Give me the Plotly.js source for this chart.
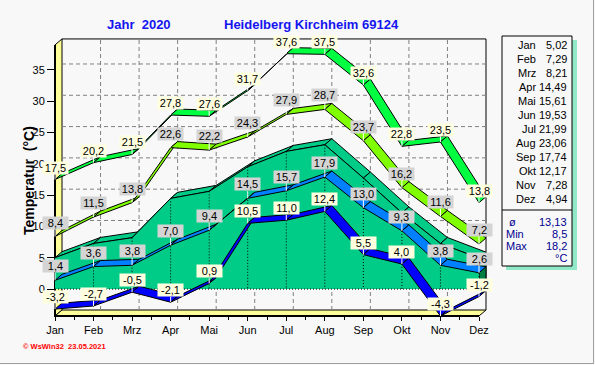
<!DOCTYPE html>
<html>
<head>
<meta charset="utf-8">
<script src="https://cdn.plot.ly/plotly-3.0.1.min.js"></script>
<style>
html,body{margin:0;padding:0;background:#F8F8F8;}
#chart{width:595px;height:365px;}
</style>
</head>
<body>
<div id="chart"></div>
<script>
// ---- data ----
const months = ['Jan','Feb','Mrz','Apr','Mai','Jun','Jul','Aug','Sep','Okt','Nov','Dez'];
const absMax  = [17.5,20.2,21.5,27.8,27.6,31.7,37.6,37.5,32.6,22.8,23.5,13.8];
const meanMax = [8.4,11.5,13.8,22.6,22.2,24.3,27.9,28.7,23.7,16.2,11.6,7.2];
const meanTemp = [5.02,7.29,8.21,14.49,15.61,19.53,21.99,23.06,17.74,12.17,7.28,4.94];
const meanMin = [1.4,3.6,3.8,7.0,9.4,14.5,15.7,17.9,13.0,9.3,3.8,2.6];
const absMin  = [-3.2,-2.7,-0.5,-2.1,0.9,10.5,11.0,12.4,5.5,4.0,-4.3,-1.2];
const summaryLabels = ['ø','Min','Max'];
const summaryValues = [13.13, 8.5, 18.2];
const yTicks = [0,5,10,15,20,25,30,35];
const titleLeft = 'Jahr\u00A0 2020';
const titleRight = 'Heidelberg Kirchheim 69124';
const yTitle = 'Temperatur\u00A0 (°C)';
const footer = '© WsWin32\u00A0 23.05.2021';

// ---- geometry ----
const W = 595, H = 365;
const M = {l:55, r:107, t:38, b:49};
const PW = W - M.l - M.r, PH = H - M.t - M.b;
const pxPerMonth = 424/11, pxPerDeg = 6.26;
const xmin = 0, xmax = PW/pxPerMonth;
const ymin = -4.3, ymax = ymin + PH/pxPerDeg;
const yTopFront = 39.0;
const DX = 7/pxPerMonth, DY = 6/pxPerDeg;
const FONT = '"Liberation Sans", Arial, sans-serif';

const px = x => (x - xmin)/(xmax - xmin);
const py = y => (y - ymin)/(ymax - ymin);
const ppx = p => (p - M.l)/PW;
const ppy = p => (H - M.b - p)/PH;
const fmt = (v, d) => v.toFixed(d).replace('.', ',');

const traces = [];
const shapes = [];
const annotations = [];

// frame lines
shapes.push({type:'line', xref:'paper', yref:'paper', x0:ppx(593.5), x1:ppx(593.5), y0:ppy(0), y1:ppy(364), line:{color:'#A0A0A0', width:1}});
shapes.push({type:'line', xref:'paper', yref:'paper', x0:ppx(0), x1:ppx(594), y0:ppy(363.5), y1:ppy(363.5), line:{color:'#A0A0A0', width:1}});

// back plane grid
yTicks.forEach(v => {
  shapes.push({type:'line', xref:'x', yref:'y', layer:'below', x0:DX, x1:11+DX, y0:v+DY, y1:v+DY,
    line:{color:'#808080', width:1, dash:'4px,3px'}});
});
for (let i = 1; i <= 10; i++) {
  shapes.push({type:'line', xref:'x', yref:'y', layer:'below', x0:i+DX, x1:i+DX, y0:ymin+DY, y1:yTopFront+DY,
    line:{color:'#808080', width:1, dash:'4px,3px'}});
}
// back plane border
shapes.push({type:'path', xref:'paper', yref:'paper', layer:'below',
  path:`M${px(DX)},${py(yTopFront+DY)} L${px(11+DX)},${py(yTopFront+DY)} L${px(11+DX)},${py(ymin+DY)}`,
  line:{color:'#000', width:1}});
// left wall
shapes.push({type:'path', xref:'paper', yref:'paper', layer:'below',
  path:`M${px(0)},${py(ymin)} L${px(0)},${py(yTopFront)} L${px(DX)},${py(yTopFront+DY)} L${px(DX)},${py(ymin+DY)} Z`,
  fillcolor:'#FFFF99', line:{color:'#000', width:1}});
// floor
shapes.push({type:'path', xref:'paper', yref:'paper', layer:'below',
  path:`M${px(0)},${py(ymin)} L${px(11)},${py(ymin)} L${px(11+DX)},${py(ymin+DY)} L${px(DX)},${py(ymin+DY)} Z`,
  fillcolor:'#FFFF99', line:{color:'#000', width:1}});
// thick front edges
shapes.push({type:'path', xref:'paper', yref:'paper', layer:'below',
  path:`M${px(0)},${py(yTopFront)} L${px(0)},${py(ymin)} L${px(11)},${py(ymin)}`,
  line:{color:'#000', width:2}});

// ---- area (monthly mean) ----
const teal = '#00CC88';
for (let i = 0; i < 11; i++) {
  traces.push({type:'scatter', mode:'lines', hoverinfo:'skip',
    x:[i, i+1, i+1+DX, i+DX, i], y:[meanTemp[i], meanTemp[i+1], meanTemp[i+1]+DY, meanTemp[i]+DY, meanTemp[i]],
    fill:'toself', fillcolor:teal, line:{color:'#000', width:1}});
}
traces.push({type:'scatter', mode:'lines', hoverinfo:'skip',
  x:[11, 11+DX, 11+DX, 11, 11], y:[meanTemp[11], meanTemp[11]+DY, DY, 0, meanTemp[11]],
  fill:'toself', fillcolor:'#007F40', line:{color:'#000', width:1}});
{
  const fx = months.map((m, i) => i).concat([11, 0]);
  const fy = meanTemp.concat([0, 0]);
  traces.push({type:'scatter', mode:'lines', hoverinfo:'skip', x:fx, y:fy,
    fill:'toself', fillcolor:teal, line:{color:teal, width:0}});
  traces.push({type:'scatter', mode:'lines', hoverinfo:'skip', x:months.map((m, i) => i), y:meanTemp,
    line:{color:'#000', width:1}});
  const vx = [], vy = [];
  for (let i = 1; i <= 11; i++) { vx.push(i, i, null); vy.push(meanTemp[i], 0, null); }
  traces.push({type:'scatter', mode:'lines', hoverinfo:'skip', x:vx, y:vy,
    line:{color:'#000', width:1, dash:'1px,2px'}});
  traces.push({type:'scatter', mode:'lines', hoverinfo:'skip', x:[0, 11], y:[0, 0],
    line:{color:'#000', width:1, dash:'1px,2px'}});
}

// ---- ribbons ----
function ribbon(vals, color) {
  for (let i = 0; i < vals.length - 1; i++) {
    traces.push({type:'scatter', mode:'lines', hoverinfo:'skip',
      x:[i, i+1, i+1+DX, i+DX, i], y:[vals[i], vals[i+1], vals[i+1]+DY, vals[i]+DY, vals[i]],
      fill:'toself', fillcolor:color, line:{color:'#000', width:1}});
  }
}
ribbon(absMax, '#00FF40');
ribbon(meanMax, '#80FF00');
ribbon(meanMin, '#0080FF');
ribbon(absMin, '#0000FF');

// ---- value labels ----
function labels(vals, bg, ay) {
  vals.forEach((v, i) => {
    annotations.push({xref:'x', yref:'y', x:i, y:v, text:fmt(v, 1),
      showarrow:true, arrowhead:0, arrowwidth:1, arrowcolor:'#FFFFFF', ax:0, ay:ay, standoff:0,
      bgcolor:bg, borderpad:0, width:25, height:12,
      font:{family:FONT, size:11, color:'#000'}});
  });
}
labels(absMax, '#FFFFE0', -12);
labels(meanMax, '#D4D4D4', -14);
labels(meanMin, '#D4D4D4', -14);
labels(absMin, '#FFFFE0', -12);

// ---- titles ----
annotations.push({xref:'paper', yref:'paper', x:ppx(105), y:ppy(24), xanchor:'left', yanchor:'middle', showarrow:false,
  text:'<b>' + titleLeft + '</b>', font:{family:FONT, size:13, color:'#1414F0'}});
annotations.push({xref:'paper', yref:'paper', x:ppx(222), y:ppy(24), xanchor:'left', yanchor:'middle', showarrow:false,
  text:'<b>' + titleRight + '</b>', font:{family:FONT, size:13, color:'#1414F0'}});
annotations.push({xref:'paper', yref:'paper', x:ppx(29), y:ppy(181), xanchor:'center', yanchor:'middle', showarrow:false,
  textangle:-90, text:'<b>' + yTitle + '</b>', font:{family:FONT, size:14, color:'#000'}});
annotations.push({xref:'paper', yref:'paper', x:ppx(21), y:ppy(346), xanchor:'left', yanchor:'middle', showarrow:false,
  text:'<b>' + footer + '</b>', font:{family:FONT, size:7.5, color:'#FF0000'}});

// ---- right info box ----
shapes.push({type:'rect', xref:'paper', yref:'paper', x0:ppx(506), x1:ppx(577), y0:ppy(40), y1:ppy(270),
  fillcolor:'#90E8C8', line:{width:0}});
shapes.push({type:'rect', xref:'paper', yref:'paper', x0:ppx(502), x1:ppx(572), y0:ppy(36), y1:ppy(266),
  fillcolor:'#F8F8F8', line:{color:'#000', width:1}});
shapes.push({type:'line', xref:'paper', yref:'paper', x0:ppx(502), x1:ppx(572), y0:ppy(210), y1:ppy(210),
  line:{color:'#000', width:1}});
months.forEach((m, k) => {
  const yy = ppy(45 + 14*k);
  annotations.push({xref:'paper', yref:'paper', x:ppx(538), y:yy, xanchor:'right', yanchor:'middle', showarrow:false,
    text:m, font:{family:FONT, size:11, color:'#000'}});
  annotations.push({xref:'paper', yref:'paper', x:ppx(569), y:yy, xanchor:'right', yanchor:'middle', showarrow:false,
    text:fmt(meanTemp[k], 2), font:{family:FONT, size:11, color:'#000'}});
});
summaryLabels.forEach((s, k) => {
  const yy = ppy(222 + 12*k);
  annotations.push({xref:'paper', yref:'paper', x:(k === 0 ? ppx(512) : ppx(504)), y:yy,
    xanchor:(k === 0 ? 'center' : 'left'), yanchor:'middle', showarrow:false,
    text:s, font:{family:FONT, size:11, color:'#000090'}});
  annotations.push({xref:'paper', yref:'paper', x:ppx(569), y:yy, xanchor:'right', yanchor:'middle', showarrow:false,
    text:String(summaryValues[k]).replace('.', ','), font:{family:FONT, size:11, color:'#000090'}});
});
annotations.push({xref:'paper', yref:'paper', x:ppx(569), y:ppy(258), xanchor:'right', yanchor:'middle', showarrow:false,
  text:'°C', font:{family:FONT, size:11, color:'#000090'}});

const layout = {
  width:W, height:H,
  margin:{l:M.l, r:M.r, t:M.t, b:M.b, pad:0, autoexpand:false},
  paper_bgcolor:'#F8F8F8', plot_bgcolor:'rgba(0,0,0,0)',
  showlegend:false,
  xaxis:{range:[xmin, xmax], tickmode:'array', tickvals:months.map((m, i) => i), ticktext:months,
    ticks:'outside', ticklen:4, tickcolor:'#000', showgrid:false, zeroline:false, showline:false,
    automargin:false, fixedrange:true,
    minor:{tickmode:'linear', tick0:0.5, dtick:1, ticks:'outside', ticklen:3, tickcolor:'#000', showgrid:false},
    tickfont:{family:FONT, size:11, color:'#000'}},
  yaxis:{range:[ymin, ymax], tickmode:'array', tickvals:yTicks, ticktext:yTicks.map(String),
    ticks:'outside', ticklen:7, tickcolor:'#000', showgrid:false, zeroline:false, showline:false,
    automargin:false, fixedrange:true,
    tickfont:{family:FONT, size:11, color:'#000'}},
  shapes:shapes,
  annotations:annotations
};

Plotly.newPlot('chart', traces, layout, {displayModeBar:false, staticPlot:true});
</script>
</body>
</html>
